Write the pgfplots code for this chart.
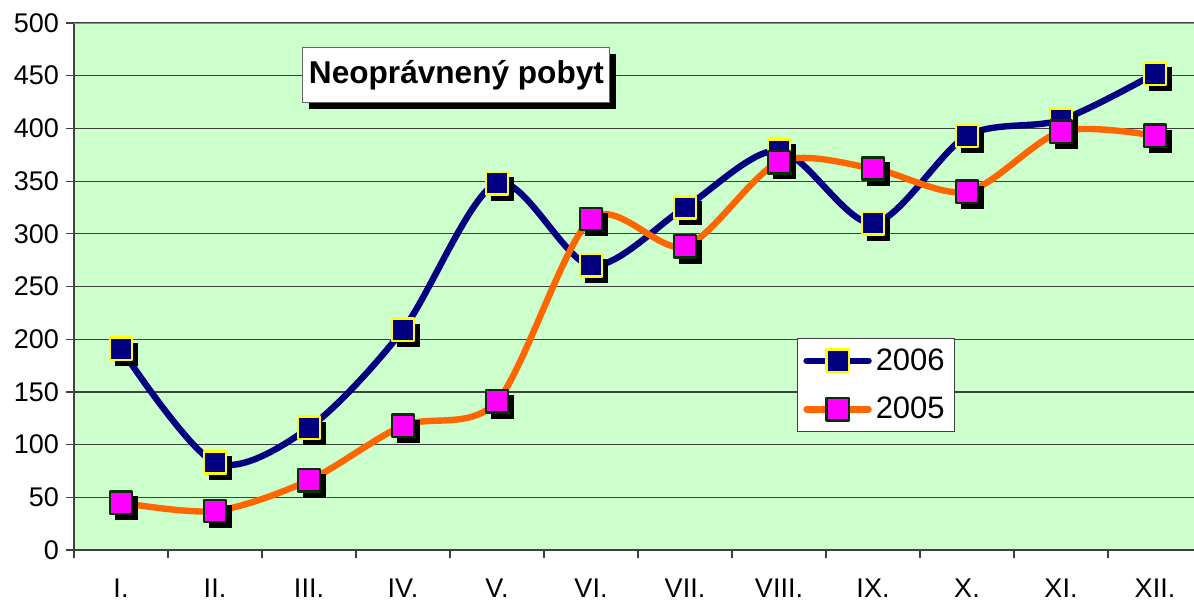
\documentclass[border=0pt]{standalone}
\usepackage{fontspec}
\setmainfont{Liberation Sans}
\usepackage{pgfplots}
\pgfplotsset{compat=1.18}
\usetikzlibrary{shadows}
\definecolor{bg}{HTML}{CCFFCC}
\definecolor{navy}{HTML}{000080}
\definecolor{orng}{HTML}{FF6600}
\definecolor{mag}{HTML}{FF00FF}
\definecolor{dgreen}{HTML}{003300}
\definecolor{yel}{HTML}{FFFF00}

\begin{document}
\begin{tikzpicture}
\useasboundingbox (0,0) rectangle (597pt,300pt);
\begin{axis}[
  at={(37pt,25pt)}, anchor=south west,
  scale only axis, width=560pt, height=263.5pt,
  xmin=0.5, xmax=12.415, ymin=0, ymax=500,
  axis background/.style={fill=bg},
  axis x line*=bottom, axis y line*=left,
  axis line style={line width=1pt, color=black!75},
  tick align=outside, major tick length=4pt,
  tick style={black!75, line width=0.6pt},
  xtick={0.5,1.5,...,11.5}, xticklabels={},
  extra x ticks={1,2,...,12},
  extra x tick labels={I.,II.,III.,IV.,V.,VI.,VII.,VIII.,IX.,X.,XI.,XII.},
  extra x tick style={major tick length=0pt,
    xticklabel style={anchor=base, yshift=-23.5pt}},
  ytick={0,50,...,500},
  ymajorgrids, grid style={black!75, line width=0.6pt},
  tick label style={font=\fontsize{13.5}{16}\selectfont},
  /pgf/number format/assume math mode=true,
  legend style={at={(0.6455,0.4023)}, anchor=north west, draw=black!75,
    fill=white, font=\fontsize{15.5}{17}\selectfont, inner xsep=3pt,
    inner ysep=3pt, row sep=8pt},
  legend cell align=left,
  legend image code/.code={\draw[mark repeat=2,mark phase=2,#1,line cap=round]
    plot coordinates {(0pt,0pt)(15.5pt,0pt)(31pt,0pt)};},
]
\draw[black!45, line width=1.2pt] (rel axis cs:0,1) -- (rel axis cs:1,1);
% 2006
\addplot[forget plot, only marks, mark=square*, mark size=5.6pt, black,
  mark options={xshift=2.75pt, yshift=-2.75pt}] coordinates {
  (1,191) (2,83) (3,116) (4,209) (5,348) (6,270) (7,325) (8,379) (9,310) (10,393) (11,408) (12,452)};
\addplot[navy, line width=3.2pt, smooth, line join=round, mark=square*, mark size=5.6pt,
  mark options={fill=navy, draw=yel, line width=1.25pt}] coordinates {
  (1,191) (2,83) (3,116) (4,209) (5,348) (6,270) (7,325) (8,379) (9,310) (10,393) (11,408) (12,452)};
\addlegendentry{2006}
% 2005
\addplot[forget plot, only marks, mark=square*, mark size=5.6pt, black,
  mark options={xshift=2.75pt, yshift=-2.75pt}] coordinates {
  (1,45) (2,37) (3,66) (4,118) (5,141) (6,314) (7,288) (8,368) (9,362) (10,340) (11,397) (12,393)};
\addplot[orng, line width=3.2pt, smooth, line join=round, mark=square*, mark size=5.6pt,
  mark options={fill=mag, draw=dgreen, line width=1.25pt}] coordinates {
  (1,45) (2,37) (3,66) (4,118) (5,141) (6,314) (7,288) (8,368) (9,362) (10,340) (11,397) (12,393)};
\addlegendentry{2005}
\node[draw=black!60, fill=white, line width=0.5pt,
  drop shadow={shadow xshift=3pt, shadow yshift=-3pt, opacity=1, fill=black},
  minimum width=153.5pt, minimum height=27.5pt, inner sep=0pt,
  font=\fontsize{15.8}{18}\selectfont\bfseries] at (axis cs:4.569,450.2) {Neoprávnený pobyt};
\end{axis}
\end{tikzpicture}
\end{document}
